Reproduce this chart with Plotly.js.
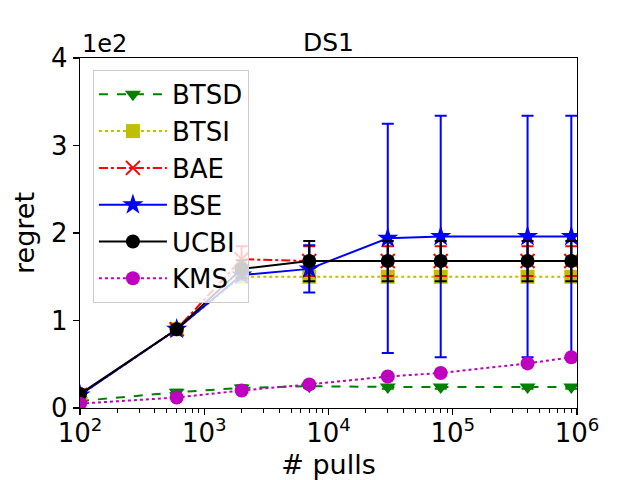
<!DOCTYPE html>
<html>
<head>
<meta charset="utf-8">
<script src="https://cdn.plot.ly/plotly-3.0.1.min.js"></script>
<style>html,body{margin:0;padding:0;background:#fff;}#chart{width:640px;height:480px;}</style>
</head>
<body>
<div id="chart"></div>
<script>
const pulls = [100, 600, 2000, 7000, 30000, 80000, 400000, 900000];

const btsd = [8, 18, 23, 25, 24, 24, 24, 24];
const btsdErr = [1, 3, 3, 2, 2, 2, 2, 2];
const btsi = [15, 90, 150, 150, 150, 150, 150, 150];
const btsiErr = [1, 2, 2, 1, 1, 1, 1, 1];
const bae = [15, 90, 170, 168, 168, 168, 168, 168];
const baeErr = [1, 2, 15, 17, 17, 17, 17, 17];
const bse = [15, 90, 152, 159, 194, 196, 196, 196];
const bseErr = [1, 2, 5, 27, 131, 138, 138, 138];
const ucbi = [16, 90, 159, 168, 168, 168, 168, 168];
const ucbiErr = [1, 2, 10, 23, 23, 23, 23, 23];
const kms = [5, 12, 20, 27, 36, 40, 51, 58];
const kmsErr = [1, 1, 1, 1, 1, 1, 1, 1];

const names = ['BTSD', 'BTSI', 'BAE', 'BSE', 'UCBI', 'KMS'];
const colors = ['#008000', '#bfbf00', '#ff0000', '#0000ff', '#000000', '#bf00bf'];
const dashes = ['dash', 'dot', 'dashdot', 'solid', 'solid', 'dot'];
const symbols = ['triangle-down', 'square', 'x-thin-open', 'star', 'circle', 'circle'];
const ys = [btsd, btsi, bae, bse, ucbi, kms];
const errs = [btsdErr, btsiErr, baeErr, bseErr, ucbiErr, kmsErr];

const xTickVals = [100, 1000, 10000, 100000, 1000000];
const xTickText = ['10<sup>2</sup>', '10<sup>3</sup>', '10<sup>4</sup>', '10<sup>5</sup>', '10<sup>6</sup>'];
const yTickVals = [0, 100, 200, 300, 400];
const yTickText = ['0', '1', '2', '3', '4'];

// minor tick positions 2..9 x 10^k
const minorVals = [];
for (let k = 2; k < 6; k++) for (let m = 2; m <= 9; m++) minorVals.push(m * Math.pow(10, k));

const traces = names.map((n, i) => ({
  x: pulls, y: ys[i], name: n, type: 'scatter', mode: 'lines+markers',
  line: {color: colors[i], dash: dashes[i], width: 2},
  marker: {symbol: symbols[i], size: symbols[i] === 'star' ? 16 : 14, color: colors[i],
           line: {color: colors[i], width: symbols[i] === 'x-thin-open' ? 2 : 0}},
  error_y: {type: 'data', array: errs[i], visible: true, color: colors[i], thickness: 2, width: 6}
}));

const font = 'DejaVu Sans, sans-serif';
const layout = {
  width: 640, height: 480,
  margin: {l: 80, r: 63, t: 58, b: 72},
  paper_bgcolor: '#fff', plot_bgcolor: '#fff',
  font: {family: font, size: 24, color: '#000'},
  title: {text: 'DS1', x: 0.5, xref: 'paper', y: 1, yref: 'paper', yanchor: 'bottom', pad: {b: 7}, font: {size: 25, family: font}},
  showlegend: true,
  legend: {x: 0.026, y: 0.966, xanchor: 'left', yanchor: 'top', bgcolor: 'rgba(255,255,255,0.8)',
           bordercolor: '#cccccc', borderwidth: 1, font: {size: 26, family: font}, itemwidth: 68},
  xaxis: {type: 'log', range: [2, 6], tickvals: xTickVals, ticktext: xTickText,
          ticks: 'outside', ticklen: 6, tickwidth: 1.2, tickcolor: '#000', ticklabelstandoff: -4,
          showline: true, linecolor: '#000', linewidth: 1.2, mirror: true, showgrid: false, zeroline: false,
          minor: {tickmode: 'array', tickvals: minorVals, ticks: 'outside', ticklen: 4, tickwidth: 1, tickcolor: '#000', showgrid: false},
          tickfont: {size: 26, family: font},
          title: {text: '# pulls', font: {size: 27, family: font}, standoff: 10}},
  yaxis: {range: [0, 400], tickvals: yTickVals, ticktext: yTickText,
          ticks: 'outside', ticklen: 6, tickwidth: 1.2, tickcolor: '#000',
          showline: true, linecolor: '#000', linewidth: 1.2, mirror: true, showgrid: false, zeroline: false,
          tickfont: {size: 26, family: font},
          title: {text: 'regret', font: {size: 27, family: font}, standoff: 8}},
  annotations: [{text: '1e2', xref: 'paper', yref: 'paper', x: 0, y: 1, xanchor: 'left', yanchor: 'bottom',
                 showarrow: false, font: {size: 24, family: font}, yshift: -2}]
};

Plotly.newPlot('chart', traces, layout, {displayModeBar: false, staticPlot: true});
</script>
</body>
</html>
